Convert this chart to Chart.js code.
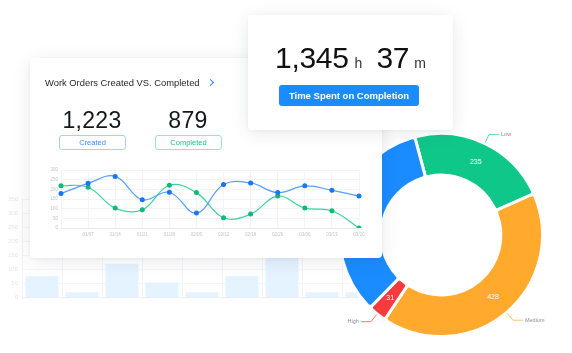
<!DOCTYPE html>
<html><head><meta charset="utf-8">
<script src="https://cdn.jsdelivr.net/npm/chart.js@4/dist/chart.umd.min.js"></script>
<style>
html,body{margin:0;padding:0;background:#fff;width:572px;height:353px;overflow:hidden;font-family:'Liberation Sans',Arial,sans-serif;}
canvas{position:absolute;display:block;}
#bg{left:0;top:190px;z-index:1;}
#donut{left:330px;top:124px;z-index:2;}
.card{position:absolute;background:#fff;border-radius:4px;box-shadow:0 3px 18px rgba(40,50,70,0.10),0 1px 4px rgba(40,50,70,0.05);}
#lineCard{left:30px;top:58px;width:352px;height:200px;z-index:3;}
#timeCard{left:248px;top:15px;width:205px;height:115px;z-index:4;}
#title{position:absolute;left:15px;top:19px;font-size:9.4px;color:#23272e;white-space:nowrap;}
#chev{position:absolute;left:178px;top:22px;width:4px;height:4px;border-top:1.4px solid #2f86f6;border-right:1.4px solid #2f86f6;transform:rotate(45deg);}
.big{position:absolute;font-size:23px;color:#15171a;text-align:center;width:100px;letter-spacing:0.3px;}
.tag{position:absolute;width:65px;height:13px;border-radius:3px;font-size:7.5px;line-height:13px;text-align:center;}
#line{left:6px;top:104px;}
#tnum{position:absolute;left:27px;top:26px;white-space:nowrap;color:#111;}
#tnum .n{font-size:30px;letter-spacing:-0.3px;}
#tnum .u{font-size:14px;color:#333;}
#tbtn{position:absolute;left:31px;top:70px;width:140px;height:21px;background:#1a8cff;border-radius:3px;color:#fff;font-size:9.5px;font-weight:bold;line-height:21px;text-align:center;}
</style></head>
<body>
<canvas id="bg" width="392" height="115"></canvas>
<canvas id="donut" width="222" height="222"></canvas>
<div class="card" id="lineCard">
  <div id="title">Work Orders Created VS. Completed</div>
  <div id="chev"></div>
  <div class="big" id="n1" style="left:12px;top:49px;">1,223</div>
  <div class="big" id="n2" style="left:108px;top:49px;">879</div>
  <div class="tag" style="left:29px;top:77px;border:1px solid #a9cdfc;color:#3a8ef6;">Created</div>
  <div class="tag" style="left:125px;top:77px;border:1px solid #9ee3c6;color:#1fbf85;">Completed</div>
  <canvas id="line" width="340" height="82"></canvas>
</div>
<div class="card" id="timeCard">
  <div id="tnum"><span class="n">1,345</span><span class="u" style="margin:0 14px 0 6px">h</span><span class="n">37</span><span class="u" style="margin-left:5px">m</span></div>
  <div id="tbtn">Time Spent on Completion</div>
</div>
<script>
// ---- data ----
const dateLabels = ['12/31','01/07','01/14','01/21','01/28','02/05','02/12','02/19','02/26','03/06','03/13','03/20'];
const createdSeries = [178,231,267,146,185,77,225,233,183,218,195,166];
const completedSeries = [219,211,103,94,221,183,53,72,165,103,89,0];
const bgCategories = ['W1','W2','W3','W4','W5','W6','W7','W8','W9'];
const bgValues = [75,18,120,53,18,75,200,18,18];
const priorityLabels = ['Low','Medium','High','Urgent'];
const priorityValues = [235,428,31,350];
const priorityColors = ['#10c78a','#ffa92d','#f73a3d','#1a8cff'];
const lineTicks = [0,50,100,150,200,250,300];
const bgTicks = [0,50,100,150,200,250,300,350];

// ---- background bar chart ----
new Chart(document.getElementById('bg'), {
  type:'bar',
  data:{labels:bgCategories, datasets:[{data:bgValues, backgroundColor:'#e5f2ff', barPercentage:0.83, categoryPercentage:1}]},
  options:{responsive:false, animation:false,
    layout:{padding:{top:9,right:10,bottom:3,left:0}},
    plugins:{legend:{display:false},tooltip:{enabled:false}},
    scales:{
      x:{grid:{offset:true,color:'#f2f4f7',drawTicks:false}, border:{color:'#eceef2'}, ticks:{display:false}, afterFit:s=>{s.height=0;}},
      y:{min:0,max:bgTicks[bgTicks.length-1], afterBuildTicks:s=>{s.ticks=bgTicks.map(v=>({value:v}));},
         ticks:{font:{size:6,family:'Liberation Sans'},color:'#e2e4e8',padding:4}, grid:{color:'#f4f5f7',drawTicks:false}, border:{display:false},
         afterFit:s=>{s.width=22;}}
    }}
});

// ---- doughnut ----
const calloutPlugin = {
  id:'callouts',
  afterDatasetsDraw(chart){
    const ctx = chart.ctx;
    const meta = chart.getDatasetMeta(0);
    meta.data.forEach((arc,i)=>{
      const p = arc.getProps(['x','y','startAngle','endAngle','innerRadius','outerRadius'], true);
      const mid = (p.startAngle+p.endAngle)/2;
      const rl = (p.innerRadius+p.outerRadius)/2;
      ctx.save();
      ctx.fillStyle='#fff';
      ctx.font='7px "Liberation Sans", Arial';
      ctx.textAlign='center'; ctx.textBaseline='middle';
      ctx.fillText(String(priorityValues[i]), p.x+Math.cos(mid)*rl, p.y+Math.sin(mid)*rl);
      // callout
      const cos=Math.cos(mid), sin=Math.sin(mid);
      const x0=p.x+cos*(p.outerRadius+1), y0=p.y+sin*(p.outerRadius+1);
      const x1=p.x+cos*(p.outerRadius+10), y1=p.y+sin*(p.outerRadius+10);
      const dir = cos>=0?1:-1;
      const x2=x1+dir*10;
      ctx.strokeStyle=priorityColors[i]; ctx.globalAlpha=0.7; ctx.lineWidth=1;
      ctx.beginPath(); ctx.moveTo(x0,y0); ctx.lineTo(x1,y1); ctx.lineTo(x2,y1); ctx.stroke();
      ctx.globalAlpha=1;
      ctx.fillStyle='#8a8f98'; ctx.font='5.5px "Liberation Sans", Arial';
      ctx.textAlign = dir>0?'left':'right';
      ctx.fillText(priorityLabels[i], x2+dir*2, y1);
      ctx.restore();
    });
  }
};
new Chart(document.getElementById('donut'), {
  type:'doughnut',
  data:{labels:priorityLabels, datasets:[{data:priorityValues, backgroundColor:priorityColors, borderColor:'#fff', borderWidth:3, borderRadius:3, hoverOffset:0}]},
  options:{responsive:false, animation:false, rotation:-15, cutout:'59%',
    layout:{padding:8},
    plugins:{legend:{display:false},tooltip:{enabled:false}}},
  plugins:[calloutPlugin]
});

// ---- line chart ----
new Chart(document.getElementById('line'), {
  type:'line',
  data:{labels:dateLabels, datasets:[
    {label:'Created', data:createdSeries, borderColor:'#559ffb', pointBackgroundColor:'#1677f5', pointBorderColor:'#1677f5', pointRadius:1.9, borderWidth:1.2, tension:0.4, fill:false},
    {label:'Completed', data:completedSeries, borderColor:'#3fd39c', pointBackgroundColor:'#0fb977', pointBorderColor:'#0fb977', pointRadius:1.9, borderWidth:1.2, tension:0.4, fill:false}
  ]},
  options:{responsive:false, animation:false,
    layout:{padding:{top:8,right:17,bottom:4,left:0}},
    plugins:{legend:{display:false},tooltip:{enabled:false}},
    scales:{
      x:{grid:{color:'#f3f4f7',drawTicks:false}, border:{color:'#e6e8ec'},
         ticks:{font:{size:4.5,family:'Liberation Sans'},color:'#bfc4cc',padding:4,maxRotation:0,autoSkip:false,callback:(v,i)=>i===0?'':dateLabels[i]},
         afterFit:s=>{s.height=12;}},
      y:{min:0,max:300, afterBuildTicks:s=>{s.ticks=lineTicks.map(v=>({value:v}));},
         ticks:{font:{size:4.5,family:'Liberation Sans'},color:'#bfc4cc',padding:3}, grid:{color:'#f3f4f7',drawTicks:false}, border:{display:false},
         afterFit:s=>{s.width=25;}}
    }}
});
</script>
</body></html>
